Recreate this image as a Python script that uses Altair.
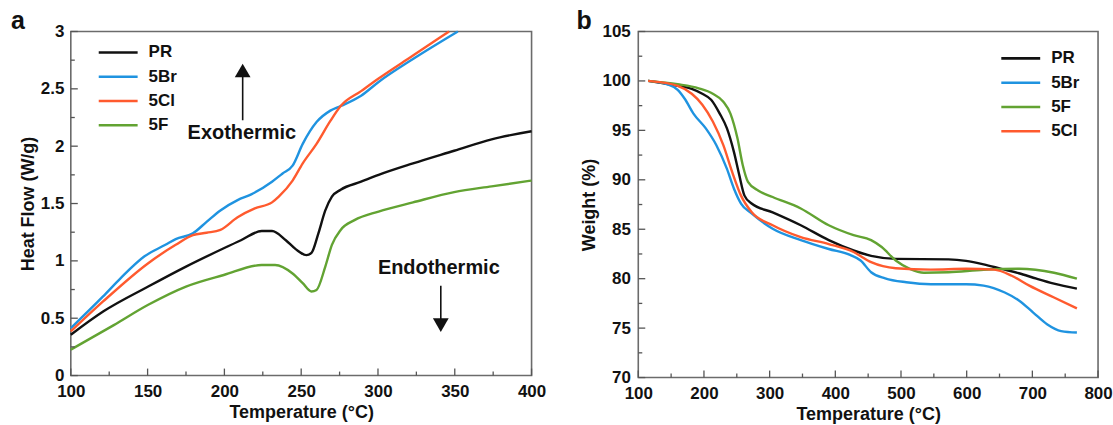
import altair as alt
import pandas as pd

FONT = "Liberation Sans"

# ---------------- Panel a : DSC ----------------
a_series = ["PR", "5Br", "5Cl", "5F"]
a_colors = ["#111111", "#1f93e0", "#ff5a2e", "#62a332"]

a_PR_T = [100, 121.3, 150.4, 175, 199.6, 210.8, 224.3, 231, 240, 246.6, 253.4, 256.7, 261.2, 265.7, 270, 275.7, 289, 300.4, 322.8, 349.6, 374, 400]
a_PR_V = [0.356, 0.56, 0.776, 0.95, 1.11, 1.18, 1.26, 1.26, 1.18, 1.10, 1.05, 1.07, 1.24, 1.44, 1.56, 1.62, 1.69, 1.75, 1.85, 1.96, 2.06, 2.13]

a_5Br_T = [100, 121, 132.5, 148, 161.6, 168.3, 179.5, 188.4, 197.4, 208.6, 217.5, 231, 237.7, 244.4, 251, 260, 269, 275.7, 289, 300.4, 322.8, 352]
a_5Br_V = [0.414, 0.69, 0.85, 1.04, 1.14, 1.19, 1.24, 1.34, 1.44, 1.53, 1.58, 1.69, 1.76, 1.83, 2.02, 2.21, 2.31, 2.35, 2.44, 2.56, 2.76, 3.0]

a_5Cl_T = [100, 121, 150.4, 168.3, 179.5, 188.4, 197.4, 208.6, 219.8, 231, 235.4, 244.4, 251, 260, 269, 275.7, 289, 300.4, 322.8, 346.3]
a_5Cl_V = [0.385, 0.646, 0.98, 1.14, 1.225, 1.245, 1.27, 1.38, 1.457, 1.51, 1.56, 1.70, 1.85, 2.02, 2.22, 2.35, 2.48, 2.59, 2.79, 3.0]

a_5F_T = [100, 128, 150.4, 175, 199.6, 224.3, 233, 244.4, 251, 256.7, 260, 265.7, 270, 275.7, 284.7, 300.4, 322.8, 349.6, 374, 400]
a_5F_V = [0.226, 0.44, 0.617, 0.776, 0.877, 0.964, 0.964, 0.89, 0.805, 0.733, 0.747, 0.95, 1.14, 1.27, 1.355, 1.43, 1.51, 1.60, 1.65, 1.70]

a_x_major = [100, 150, 200, 250, 300, 350, 400]
a_x_minor = [125, 175, 225, 275, 325, 375]
a_y_major = [0, 0.5, 1, 1.5, 2, 2.5, 3]
a_y_minor = [0.25, 0.75, 1.25, 1.75, 2.25, 2.75]

# annotation arrows (data units)
a_arrow_T = [211.9, 340.9]
a_arrow_from = [2.226, 0.783]
a_arrow_to = [2.66, 0.44]
a_arrow_shape = ["triangle-up", "triangle-down"]
a_note_T = [211.4, 339.6]
a_note_V = [2.113, 0.939]
a_note_text = ["Exothermic", "Endothermic"]

# ---------------- Panel b : TGA ----------------
b_series = ["PR", "5Br", "5F", "5Cl"]
b_colors = ["#111111", "#1f93e0", "#62a332", "#ff5a2e"]

b_PR_T = [115, 160, 181.4, 197.5, 210.9, 224, 235, 245.7, 253.7, 261.7, 272.5, 304.6, 347.4, 390, 427.8, 454.5, 492, 572.4, 599, 625.8, 652.6, 679.5, 706.3, 733, 767.8]
b_PR_W = [100.0, 99.5, 99.2, 98.7, 98.1, 96.7, 95.2, 92.8, 90.5, 88.4, 87.6, 86.7, 85.4, 83.9, 82.85, 82.3, 82.0, 81.95, 81.8, 81.45, 81.0, 80.55, 80.0, 79.5, 79.0]

b_5Br_T = [115, 144, 160, 170.7, 184, 202.8, 218.9, 235, 245.7, 256.4, 272.5, 304.6, 347.4, 390, 422.4, 438.5, 454.5, 475.9, 508, 545.5, 599, 625.8, 658, 679.5, 700.9, 722.3, 743.8, 767.8]
b_5Br_W = [100.0, 99.66, 99.1, 98.2, 96.7, 95.2, 93.5, 91.1, 89.1, 87.6, 86.6, 85.05, 83.9, 83.0, 82.4, 81.84, 80.65, 80.04, 79.64, 79.44, 79.44, 79.3, 78.6, 77.8, 76.6, 75.4, 74.7, 74.55]

b_5F_T = [115, 160, 192, 213.5, 229.5, 240.3, 251, 259, 267, 283, 304.6, 347.4, 390, 427.8, 454.5, 470.6, 492, 513.4, 535, 572.4, 625.8, 679.5, 733, 767.8]
b_5F_W = [100.0, 99.66, 99.25, 98.7, 97.9, 96.7, 94.2, 91.5, 89.8, 88.9, 88.26, 87.1, 85.4, 84.4, 83.9, 83.2, 81.84, 81.0, 80.6, 80.65, 80.9, 81.0, 80.6, 80.0]

b_5Cl_T = [115, 160, 181.4, 197.5, 213.5, 229.5, 242.9, 256.4, 272.5, 304.6, 347.4, 390, 427.8, 454.5, 492, 545.5, 599, 641.8, 668.6, 695.4, 733, 767.8]
b_5Cl_W = [100.0, 99.5, 98.7, 97.6, 95.9, 93.5, 90.8, 88.4, 86.74, 85.4, 84.2, 83.5, 82.7, 81.67, 81.06, 80.92, 81.0, 80.92, 80.3, 79.3, 78.1, 77.0]

b_x_major = [100, 200, 300, 400, 500, 600, 700, 800]
b_x_minor = [150, 250, 350, 450, 550, 650, 750]
b_y_major = [70, 75, 80, 85, 90, 95, 100, 105]
b_y_minor = [72.5, 77.5, 82.5, 87.5, 92.5, 97.5, 102.5]

TICK_COLOR = "#555555"


def long_df(pairs):
    rows = []
    for name, (xs, ys) in pairs.items():
        for x, y in zip(xs, ys):
            rows.append({"series": name, "x": x, "y": y})
    return pd.DataFrame(rows)


def panel(df, series, colors, xdom, ydom, xmaj, xmin, ymaj, ymin, w, h,
          xtitle, ytitle, yfmt, ylabpad, ytitlepad, leg_x, leg_y0, leg_y1,
          letter, letter_dx, letter_dy, extra_layers=None):
    xs = alt.Scale(domain=xdom, nice=False, zero=False)
    ys = alt.Scale(domain=ydom, nice=False, zero=False)
    cs = alt.Scale(domain=series, range=colors)
    xaxis = alt.Axis(values=xmaj, format="d", ticks=False, domain=False, grid=False,
                     labelFlush=False, labelOverlap=False, labelPadding=8, titlePadding=4)
    yaxis = alt.Axis(values=ymaj, format=yfmt, ticks=False, domain=False, grid=False,
                     labelFlush=False, labelOverlap=False, labelPadding=ylabpad,
                     titlePadding=ytitlepad)

    def X(field="x"):
        return alt.X(f"{field}:Q", scale=xs, title=xtitle, axis=xaxis)

    def Y(field="y"):
        return alt.Y(f"{field}:Q", scale=ys, title=ytitle, axis=yaxis)

    lines = alt.Chart(df).mark_line(strokeWidth=2.4, interpolate="monotone").encode(
        x=X(), y=Y(),
        color=alt.Color("series:N", scale=cs, legend=None),
        detail="series:N",
    )

    def xticks(vals, ln):
        return alt.Chart(pd.DataFrame({"x": vals})).mark_rule(color=TICK_COLOR, strokeWidth=1.3).encode(
            x=X(), y=alt.value(h), y2=alt.value(h - ln))

    def yticks(vals, ln):
        return alt.Chart(pd.DataFrame({"y": vals})).mark_rule(color=TICK_COLOR, strokeWidth=1.3).encode(
            y=Y(), x=alt.value(0), x2=alt.value(ln))

    main_layers = [lines, xticks(xmaj, 7), xticks(xmin, 4), yticks(ymaj, 7), yticks(ymin, 4)]
    if extra_layers:
        main_layers += [f(X, Y) for f in extra_layers]

    letter_layer = alt.Chart(pd.DataFrame({"t": [letter]})).mark_text(
        font=FONT, fontWeight="bold", fontSize=25, align="left", baseline="alphabetic", color="#111"
    ).encode(text="t:N", x=alt.value(letter_dx), y=alt.value(letter_dy))
    main_layers.append(letter_layer)

    main = alt.layer(*main_layers)

    leg_df = pd.DataFrame({"series": series})
    ly = alt.Y("series:N", sort=series,
               scale=alt.Scale(domain=series, range=[leg_y0, leg_y1], type="point", padding=0),
               axis=None)
    leg_rules = alt.Chart(leg_df).mark_rule(strokeWidth=2.6).encode(
        x=alt.value(leg_x), x2=alt.value(leg_x + 39), y=ly,
        color=alt.Color("series:N", scale=cs, legend=None))
    leg_text = alt.Chart(leg_df).mark_text(
        font=FONT, fontWeight="bold", fontSize=17, align="left", baseline="middle", color="#111"
    ).encode(x=alt.value(leg_x + 50), y=ly, text="series:N")
    legend = alt.layer(leg_rules, leg_text)

    return alt.layer(main, legend).resolve_scale(y="independent").properties(width=w, height=h)


dfa = long_df({"PR": (a_PR_T, a_PR_V), "5Br": (a_5Br_T, a_5Br_V),
               "5Cl": (a_5Cl_T, a_5Cl_V), "5F": (a_5F_T, a_5F_V)})
dfb = long_df({"PR": (b_PR_T, b_PR_W), "5Br": (b_5Br_T, b_5Br_W),
               "5F": (b_5F_T, b_5F_W), "5Cl": (b_5Cl_T, b_5Cl_W)})


def arrows_layer(X, Y):
    d = pd.DataFrame({"x": a_arrow_T, "y": a_arrow_from, "y2": a_arrow_to})
    return alt.Chart(d).mark_rule(color="#111", strokeWidth=1.6).encode(x=X(), y=Y(), y2="y2:Q")


def heads_layer(X, Y):
    d = pd.DataFrame({"x": a_arrow_T, "y": a_arrow_to, "shape": a_arrow_shape})
    return alt.Chart(d).mark_point(filled=True, color="#111", opacity=1, size=250).encode(
        x=X(), y=Y(), shape=alt.Shape("shape:N", scale=None, legend=None))


def notes_layer(X, Y):
    d = pd.DataFrame({"x": a_note_T, "y": a_note_V, "t": a_note_text})
    return alt.Chart(d).mark_text(font=FONT, fontWeight="bold", fontSize=20, align="center",
                                  baseline="middle", color="#111").encode(x=X(), y=Y(), text="t:N")


pa = panel(dfa, a_series, a_colors, [100, 400], [0, 3], a_x_major, a_x_minor, a_y_major, a_y_minor,
           462, 345, "Temperature (°C)", "Heat Flow (W/g)", ".1~f", 7, 3, 28, 21, 94,
           "a", -60, -2, extra_layers=[arrows_layer, heads_layer, notes_layer])
pb = panel(dfb, b_series, b_colors, [100, 800], [70, 105], b_x_major, b_x_minor, b_y_major, b_y_minor,
           461, 347, "Temperature (°C)", "Weight (%)", "d", 8, 4, 364, 27, 100,
           "b", -62, -2)

chart = alt.hconcat(pa, pb, spacing=29).resolve_scale(color="independent").properties(
    padding={"left": 10, "top": 8, "right": 0, "bottom": 2},
    background="white",
).configure_view(stroke="#6b6b6b", strokeWidth=1.6).configure_axis(
    labelFont=FONT, labelFontWeight="bold", labelFontSize=17, labelColor="#111",
    titleFont=FONT, titleFontWeight="bold", titleFontSize=18, titleColor="#111"
)

chart.save("out.html", embed_options={"renderer": "svg", "actions": False})
